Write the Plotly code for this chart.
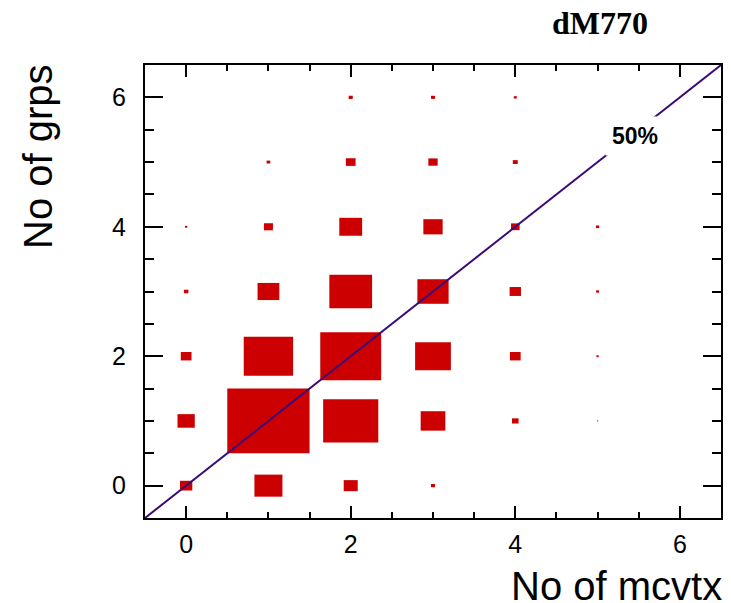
import numpy as np
import plotly.graph_objects as go

# bin centres (No of mcvtx, No of grps) and bin contents (box area ~ content)
x_bins = [0, 1, 2, 3,
          0, 1, 2, 3, 4, 5,
          0, 1, 2, 3, 4, 5,
          0, 1, 2, 3, 4, 5,
          0, 1, 2, 3, 4, 5,
          1, 2, 3, 4,
          2, 3, 4]
y_bins = [0, 0, 0, 0,
          1, 1, 1, 1, 1, 1,
          2, 2, 2, 2, 2, 2,
          3, 3, 3, 3, 3, 3,
          4, 4, 4, 4, 4, 4,
          5, 5, 5, 5,
          6, 6, 6]
contents = [22.5, 116, 29, 2.5,
            44, 1000, 449, 90, 6.4, 0.26,
            17, 360, 548, 189, 17, 0.8,
            3.0, 70, 270, 144, 19, 1.3,
            0.9, 12, 77, 55, 11, 1.6,
            2.0, 14, 12.8, 3.6,
            2.5, 2.3, 1.3]

x_range = [-0.5, 6.5]
y_range = [-0.5, 6.5]
x_ticks = [0, 2, 4, 6]
y_ticks = [0, 2, 4, 6]
diag = [-0.5, 6.5]

title_text = "dM770"
x_title = "No of mcvtx"
y_title = "No of grps"
line_label = "50%"

fig = go.Figure()

cmax = max(contents)
shapes = []
for xc, yc, c in zip(x_bins, y_bins, contents):
    s = np.sqrt(c / cmax)
    shapes.append(dict(type="rect", xref="x", yref="y",
                       x0=xc - s / 2, x1=xc + s / 2,
                       y0=yc - s / 2, y1=yc + s / 2,
                       fillcolor="#cc0000", line=dict(width=0),
                       layer="below"))

fig.add_trace(go.Scatter(x=diag, y=diag, mode="lines",
                         line=dict(color="#3a0a78", width=2),
                         hoverinfo="skip", showlegend=False))

axis_common = dict(showgrid=False, zeroline=False, showline=True,
                   linecolor="black", linewidth=2, mirror="ticks",
                   ticks="inside", tickcolor="black", tickwidth=2,
                   tickfont=dict(family="Liberation Sans, Arial", size=25, color="black"))

fig.update_xaxes(range=x_range, tickvals=x_ticks, ticklen=12,
                 ticklabelstandoff=3,
                 minor=dict(dtick=0.5, tick0=0, ticks="inside", ticklen=6,
                            tickcolor="black", tickwidth=2, showgrid=False),
                 **axis_common)
fig.update_yaxes(range=y_range, tickvals=y_ticks, ticklen=18,
                 ticklabelstandoff=12,
                 minor=dict(dtick=0.5, tick0=0, ticks="inside", ticklen=9,
                            tickcolor="black", tickwidth=2, showgrid=False),
                 **axis_common)

annotations = [
    dict(text="<b>" + title_text + "</b>", xref="paper", yref="paper", x=0.79, y=1.0,
         yshift=42, xanchor="center", yanchor="middle", showarrow=False,
         font=dict(family="Liberation Serif, Times New Roman", size=32, color="black")),
    dict(text=x_title, xref="paper", yref="paper", x=1.0, y=0,
         xshift=2, yshift=-68, xanchor="right", yanchor="middle", showarrow=False,
         borderpad=0,
         font=dict(family="Liberation Sans, Arial", size=40, color="black")),
    dict(text=y_title, xref="paper", yref="paper", x=0, y=1.0,
         xshift=-107, yshift=-92, xanchor="center", yanchor="middle", showarrow=False,
         textangle=-90,
         font=dict(family="Liberation Sans, Arial", size=40, color="black")),
    dict(text="<b>" + line_label + "</b>", xref="x", yref="y", x=5.45, y=5.4,
         xanchor="center", yanchor="middle", showarrow=False,
         bgcolor="white", borderpad=6,
         font=dict(family="Liberation Sans, Arial", size=23, color="black")),
]

fig.update_layout(width=731, height=603,
                  margin=dict(l=145, r=8, t=65, b=85),
                  plot_bgcolor="white", paper_bgcolor="white",
                  shapes=shapes, annotations=annotations, showlegend=False)

fig.write_html("out.html", config={"displayModeBar": False},
               post_script="document.body.style.margin='0';document.body.style.overflow='hidden';")
